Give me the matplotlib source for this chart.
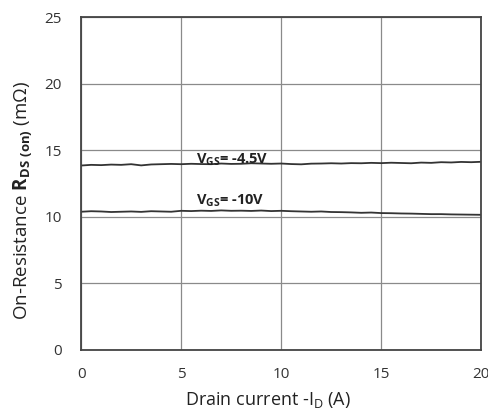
import numpy as np
import matplotlib.pyplot as plt

plt.rcParams['font.family'] = ['Open Sans', 'DejaVu Sans']
plt.rcParams['mathtext.fontset'] = 'custom'
plt.rcParams['mathtext.rm'] = 'Open Sans'
plt.rcParams['mathtext.bf'] = 'Open Sans:bold'

# drain current (A)
current = [0, 0.5, 1, 1.5, 2, 2.5, 3, 3.5, 4, 4.5, 5, 5.5, 6, 6.5, 7, 7.5, 8, 8.5, 9, 9.5, 10,
           10.5, 11, 11.5, 12, 12.5, 13, 13.5, 14, 14.5, 15, 15.5, 16, 16.5, 17, 17.5, 18, 18.5, 19, 19.5, 20]

# on-resistance (mOhm)
rds_45 = [13.85, 13.9, 13.88, 13.92, 13.9, 13.95, 13.86, 13.93, 13.95, 13.97, 13.95, 13.98, 13.96, 13.95,
          14.0, 13.97, 13.98, 14.02, 14.0, 13.98, 14.0, 13.96, 13.94, 13.99, 14.0, 14.02, 14.0, 14.03,
          14.02, 14.05, 14.03, 14.06, 14.04, 14.02, 14.07, 14.05, 14.1, 14.08, 14.12, 14.1, 14.13]
rds_10 = [10.38, 10.42, 10.4, 10.36, 10.38, 10.4, 10.37, 10.42, 10.4, 10.38, 10.45, 10.43, 10.46, 10.44,
          10.48, 10.45, 10.46, 10.44, 10.47, 10.43, 10.45, 10.42, 10.4, 10.38, 10.4, 10.36, 10.35, 10.33,
          10.3, 10.32, 10.28, 10.27, 10.25, 10.24, 10.22, 10.2, 10.2, 10.18, 10.17, 10.16, 10.15]

fig = plt.figure(figsize=(4.89, 4.12), dpi=100)
ax = fig.add_axes([0.166, 0.1505, 0.818, 0.8082])

ax.plot(current, rds_45, color='#333333', lw=1.3)
ax.plot(current, rds_10, color='#333333', lw=1.3)

ax.text(5.75, 14.05, r'V$_{\mathbf{GS}}$= -4.5V', fontsize=10.5, fontweight='bold', color='#222222')
ax.text(5.75, 10.95, r'V$_{\mathbf{GS}}$= -10V', fontsize=10.5, fontweight='bold', color='#222222')

ax.set_xlim(0, 20)
ax.set_ylim(0, 25)
ax.set_xticks([0, 5, 10, 15, 20])
ax.set_yticks([0, 5, 10, 15, 20, 25])
ax.grid(True, color='#8a8a8a', lw=0.9)
ax.tick_params(length=0, labelsize=11, colors='#333333')
ax.tick_params(axis='y', pad=14)
ax.tick_params(axis='x', pad=12)
for s in ax.spines.values():
    s.set_color('#444444')
    s.set_linewidth(1.3)

ax.set_xlabel(r'Drain current -I$_{\mathrm{D}}$ (A)', fontsize=13, color='#222222')
ax.xaxis.set_label_coords(0.4675, -0.12)
ax.set_ylabel(r'On-Resistance $\mathbf{R}_{\mathbf{DS\ (on)}}$ (m$\Omega$)', fontsize=13.5, color='#222222')
ax.yaxis.set_label_coords(-0.115, 0.45)

fig.savefig('out.png', dpi=100)
